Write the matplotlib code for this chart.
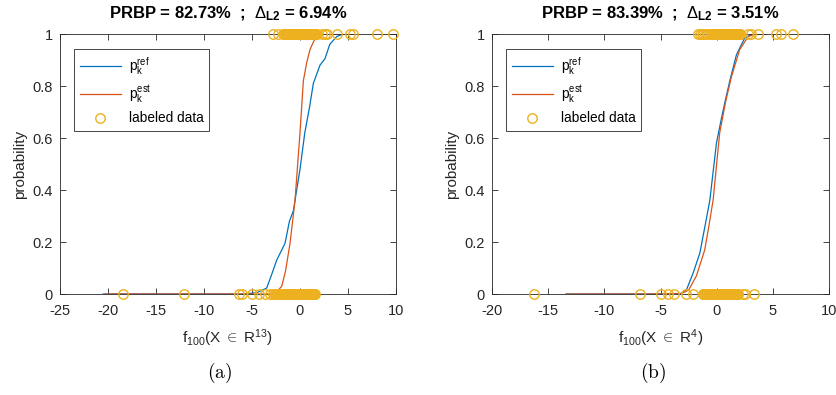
import matplotlib.pyplot as plt
import numpy as np

plt.rcParams['font.family'] = ['Liberation Sans', 'DejaVu Sans']
plt.rcParams['mathtext.fontset'] = 'custom'
plt.rcParams['mathtext.rm'] = 'Liberation Sans'
plt.rcParams['mathtext.it'] = 'Liberation Sans'
plt.rcParams['mathtext.bf'] = 'Liberation Sans:bold'
plt.rcParams['axes.unicode_minus'] = False

BLUE = '#0072BD'
RED = '#D95319'
YEL = '#EDB120'
AX = '#262626'

# ---- panel (a) ----
a_ref_x = [-20.5, -6.0, -4.5, -3.47, -3.0, -2.43, -1.56, -1.1, -0.69, -0.52, 0.0, 0.5, 1.0, 1.39, 2.08, 2.6, 3.1, 3.82, 4.5, 5.5]
a_ref_p = [0.0, 0.0, 0.005, 0.023, 0.07, 0.13, 0.195, 0.28, 0.32, 0.36, 0.48, 0.62, 0.72, 0.81, 0.88, 0.905, 0.96, 0.99, 1.0, 1.0]
a_est_x = [-20.3, -6.0, -3.0, -2.5, -1.9, -1.5, -1.04, -0.52, 0.0, 0.35, 0.7, 1.04, 1.4, 1.74, 2.5, 5.5]
a_est_p = [0.0, 0.0, 0.0, 0.005, 0.03, 0.09, 0.195, 0.36, 0.62, 0.82, 0.89, 0.94, 0.97, 0.99, 1.0, 1.0]
# labeled samples with label 0
a_lab0 = [-18.4, -12.05, -6.32, -6.0, -4.97, -4.3, -3.65, -3.1, -2.8,
          -2.62, -2.56, -2.47, -2.41, -2.33, -2.27, -2.2, -2.13, -2.08, -2.0, -1.94, -1.85,
          -1.79, -1.73, -1.65, -1.6, -1.52, -1.44, -1.39, -1.31, -1.26, -1.17, -1.11, -1.04,
          -0.98, -0.9, -0.83, -0.77, -0.7, -0.62, -0.57, -0.48, -0.43, -0.35, -0.29, -0.21,
          -0.15, -0.07, -0.01, 0.06, 0.14, 0.19, 0.27, 0.33, 0.41, 0.47, 0.55, 0.6, 0.68,
          0.74, 0.82, 0.88, 0.96, 1.02, 1.1, 1.16, 1.23, 1.3, 1.37, 1.44, 1.51, 1.6]
# labeled samples with label 1
a_lab1 = [-2.78, -2.3, -1.78, -1.71, -1.63, -1.57, -1.5, -1.42, -1.36, -1.28, -1.21, -1.15,
          -1.07, -1.0, -0.93, -0.86, -0.8, -0.72, -0.66, -0.58, -0.51, -0.45, -0.37, -0.31,
          -0.23, -0.16, -0.1, -0.02, 0.05, 0.11, 0.19, 0.25, 0.33, 0.4, 0.46, 0.54, 0.6,
          0.67, 0.75, 0.81, 0.89, 0.95, 1.03, 1.09, 1.17, 1.24, 1.3, 1.38, 1.45, 1.52, 1.6,
          1.67, 1.77, 2.3, 2.6, 2.84, 3.82, 5.2, 5.49, 8.0, 9.72]

# ---- panel (b) ----
b_ref_x = [-13.4, -6.0, -3.2, -2.69, -2.1, -1.5, -1.0, -0.61, -0.02, 0.42, 0.8, 1.17, 1.76, 2.5, 3.2, 4.4]
b_ref_p = [0.0, 0.0, 0.002, 0.016, 0.08, 0.157, 0.27, 0.36, 0.58, 0.675, 0.75, 0.82, 0.92, 0.985, 1.0, 1.0]
b_est_x = [-13.4, -6.0, -3.2, -2.5, -1.8, -1.06, -0.7, -0.32, 0.27, 0.8, 1.31, 2.05, 2.8, 3.5, 4.4]
b_est_p = [0.0, 0.0, 0.001, 0.015, 0.07, 0.17, 0.26, 0.36, 0.62, 0.74, 0.835, 0.94, 0.99, 1.0, 1.0]
b_lab0 = [-16.3, -6.85, -5.0, -4.33, -3.82, -2.69, -2.1,
          -1.25, -1.19, -1.12, -1.06, -0.99, -0.93, -0.87, -0.8, -0.74, -0.68, -0.61, -0.56,
          -0.49, -0.43, -0.37, -0.3, -0.25, -0.18, -0.12, -0.06, 0.01, 0.07, 0.13, 0.2, 0.25,
          0.32, 0.38, 0.44, 0.51, 0.56, 0.63, 0.69, 0.75, 0.82, 0.87, 0.94, 1.0, 1.06, 1.13,
          1.18, 1.25, 1.31, 1.37, 1.44, 1.49, 1.56, 1.62, 1.68, 1.75, 1.8, 1.87, 1.93,
          2.3, 2.5, 3.36]
b_lab1 = [-1.66, -1.5, -1.35, -1.2, -1.05, -0.85, -0.62,
          -0.4, -0.34, -0.27, -0.21, -0.15, -0.08, -0.02, 0.04, 0.1, 0.17, 0.23, 0.29, 0.35,
          0.42, 0.48, 0.54, 0.6, 0.67, 0.73, 0.79, 0.85, 0.92, 0.98, 1.04, 1.1, 1.17, 1.23,
          1.29, 1.35, 1.42, 1.48, 1.54, 1.6, 1.67, 1.73, 1.79, 1.85, 1.92, 1.98, 2.05, 2.1,
          2.8, 3.1, 3.7, 5.3, 5.77, 6.8]

panels = [
    dict(ref=(a_ref_x, a_ref_p), est=(a_est_x, a_est_p), lab=(a_lab0, a_lab1),
         xlim=(-25, 10), xticks=np.arange(-25, 11, 5),
         title=r'PRBP = 82.73%  ;  $\Delta_{\mathbf{L2}}$ = 6.94%',
         xlabel=r'f$_{100}$(X $\in$ R$^{13}$)', cap='(a)', capx=220 / 836,
         rect=[60 / 836, 1 - 294 / 395, 336 / 836, 260 / 395]),
    dict(ref=(b_ref_x, b_ref_p), est=(b_est_x, b_est_p), lab=(b_lab0, b_lab1),
         xlim=(-20, 10), xticks=np.arange(-20, 11, 5),
         title=r'PRBP = 83.39%  ;  $\Delta_{\mathbf{L2}}$ = 3.51%',
         xlabel=r'f$_{100}$(X $\in$ R$^{4}$)', cap='(b)', capx=653 / 836,
         rect=[492 / 836, 1 - 294 / 395, 337 / 836, 260 / 395]),
]

fig = plt.figure(figsize=(8.36, 3.95), dpi=100)
for p in panels:
    ax = fig.add_axes(p['rect'])
    ax.plot(p['ref'][0], p['ref'][1], color=BLUE, lw=0.9, label=r'p$_\mathregular{k}^\mathregular{ref}$')
    ax.plot(p['est'][0], p['est'][1], color=RED, lw=0.9, label=r'p$_\mathregular{k}^\mathregular{est}$')
    lab0, lab1 = p['lab']
    xs = lab0 + lab1
    ys = [0] * len(lab0) + [1] * len(lab1)
    ax.plot(xs, ys, 'o', mfc='none', mec=YEL, ms=6.8, mew=1.0, clip_on=False,
            label='labeled data', zorder=5)
    ax.set_xlim(*p['xlim'])
    ax.set_ylim(0, 1)
    ax.set_xticks(p['xticks'])
    ax.set_yticks([0, 0.2, 0.4, 0.6, 0.8, 1])
    ax.set_yticklabels(['0', '0.2', '0.4', '0.6', '0.8', '1'])
    ax.tick_params(direction='in', top=True, right=True, length=4, width=0.6,
                   labelsize=10.5, colors=AX)
    ax.tick_params(axis='x', pad=7)
    ax.tick_params(axis='y', pad=5)
    for s in ax.spines.values():
        s.set_color(AX)
        s.set_linewidth(0.6)
    ax.set_title(p['title'], fontsize=12, fontweight='bold', pad=11)
    ax.set_xlabel(p['xlabel'], fontsize=11, color=AX, labelpad=7)
    ax.set_ylabel('probability', fontsize=11, color=AX, labelpad=4)
    leg = ax.legend(loc='upper left', bbox_to_anchor=(0.042, 0.942), fontsize=9.8,
                    handlelength=3.0, handletextpad=0.6, labelspacing=0.48, borderpad=0.42,
                    fancybox=False, framealpha=1, edgecolor=AX, borderaxespad=0)
    leg.get_frame().set_linewidth(0.6)
    fig.text(p['capx'], 0.056, r'$\mathrm{' + p['cap'] + '}$',
             math_fontfamily='cm', fontsize=14, ha='center', va='center')

fig.savefig('out.png', dpi=100)
